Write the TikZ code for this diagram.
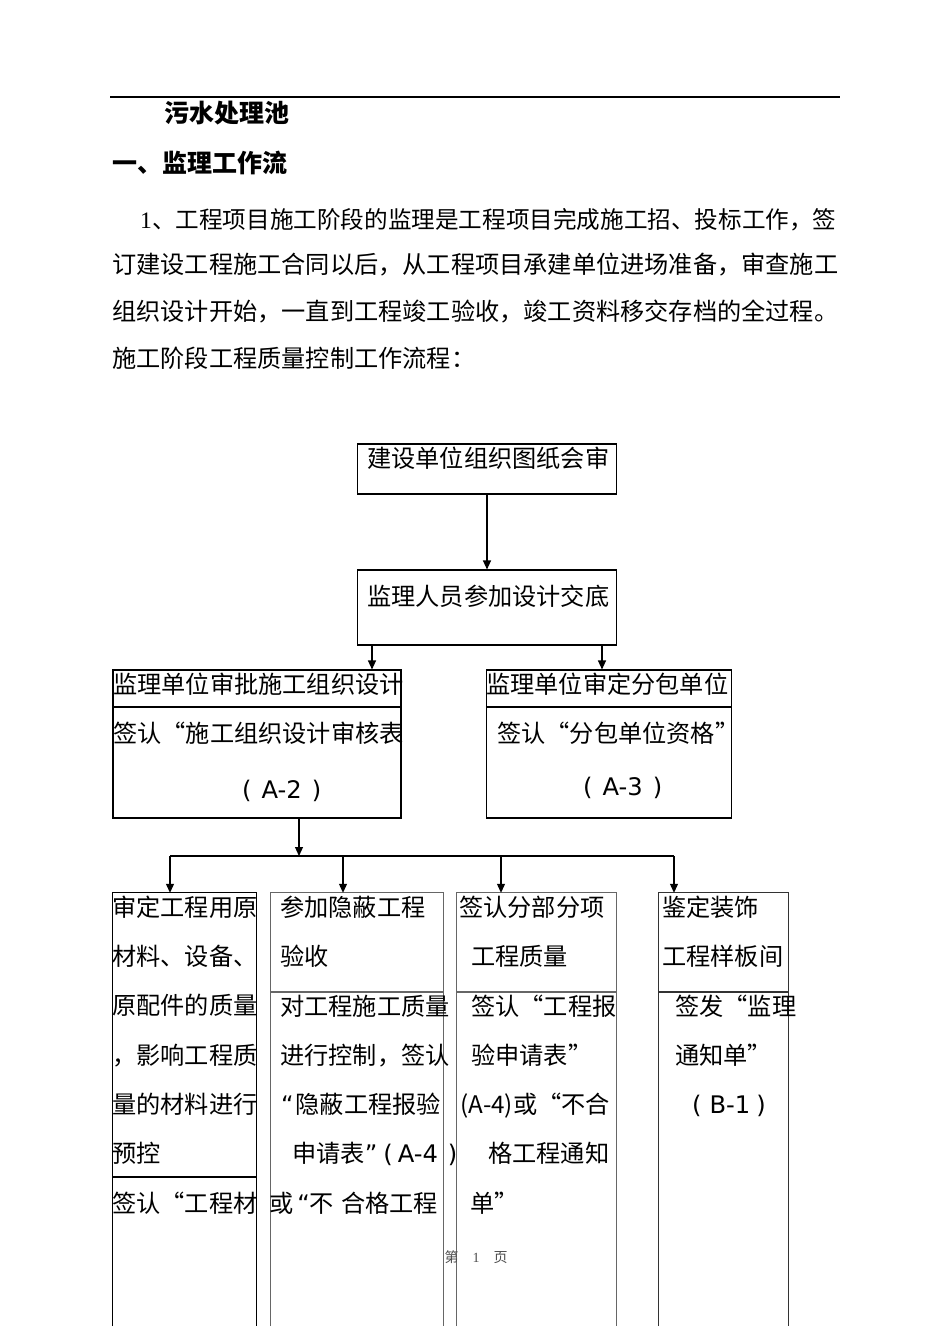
\documentclass[tikz,border=0pt]{standalone}
\usepackage{fontspec}
\setmainfont{Noto Sans CJK SC}
\newfontfamily\latinserif{Liberation Serif}
\newfontfamily\latinsans{DejaVu Sans}
\usetikzlibrary{arrows.meta,positioning}

\tikzset{
    frame/.style={draw, line width=1.1pt, inner sep=0pt},
    column/.style={inner sep=0pt, minimum height=433pt},
    txt/.style={anchor=base west, inner sep=0pt, font=\fontsize{24.2pt}{29pt}\selectfont},
    ttl/.style={anchor=base west, inner sep=0pt, font=\fontsize{25pt}{30pt}\selectfont\bfseries},
    link/.style={line width=1.1pt},
    arr/.style={link, -{Triangle[length=9pt,width=8pt]}},
}
% full-width style code label, e.g. ( A-2 )
\newcommand{\codelabel}[3]{{\latinsans(\hspace{#2}#1\hspace{#3})}}

\begin{document}
\begin{tikzpicture}[x=1pt,y=-1pt]
    \useasboundingbox (0,0) rectangle (950,1344);

    % Header
    \draw[line width=1.2pt] (110,97) -- (840,97);
    \node[ttl] (title) at (164,122) {污水处理池};
    \node[ttl] (section) at (112,172) {一、监理工作流};

    % Paragraph
    \node[txt, font=\fontsize{23.6pt}{29pt}\selectfont] (par1) at (140,228) {{\latinserif 1}、工程项目施工阶段的监理是工程项目完成施工招、投标工作，签};
    \node[txt] (par2) at (112,273) {订建设工程施工合同以后，从工程项目承建单位进场准备，审查施工};
    \node[txt] (par3) at (112,320) {组织设计开始，一直到工程竣工验收，竣工资料移交存档的全过程。};
    \node[txt] (par4) at (112,367) {施工阶段工程质量控制工作流程：};

    % Upper boxes
    \node[frame, minimum width=259pt, minimum height=50pt] (huishen) at (487,469) {};
    \node[txt] (huishenT) at (367,467) {建设单位组织图纸会审};

    \node[frame, minimum width=259pt, minimum height=75pt] (jiaodi) at (487,607.5) {};
    \node[txt] (jiaodiT) at (367,605) {监理人员参加设计交底};

    \node[frame, minimum width=288pt, minimum height=148pt] (shenpi) at (257,744) {};
    \draw[link] (shenpi.west |- 0,707) -- (shenpi.east |- 0,707);
    \node[txt] (shenpiA) at (113,693) {监理单位审批施工组织设计};
    \node[txt] (shenpiB) at (113,742) {签认“施工组织设计审核表};
    \node[txt] (shenpiC) at (242,798) {\codelabel{A-2}{10pt}{10pt}};

    \node[frame, minimum width=245pt, minimum height=148pt] (fenbao) at (609,744) {};
    \draw[link] (fenbao.west |- 0,707) -- (fenbao.east |- 0,707);
    \node[txt] (fenbaoA) at (486,693) {监理单位审定分包单位};
    \node[txt] (fenbaoB) at (497,742) {签认“分包单位资格”};
    \node[txt] (fenbaoC) at (583,795) {\codelabel{A-3}{10pt}{10pt}};

    % Connectors between upper boxes
    \coordinate (toShenpi) at (372,0);
    \coordinate (toFenbao) at (602,0);
    \draw[arr] (huishen.south) -- (jiaodi.north);
    \draw[arr] (jiaodi.south -| toShenpi) -- (shenpi.north -| toShenpi);
    \draw[arr] (jiaodi.south -| toFenbao) -- (fenbao.north -| toFenbao);

    % Lower columns (open at the page bottom)
    \node[column, minimum width=143pt] (cailiao) at (184.5,1109.5) {};
    \node[column, minimum width=172pt] (yinbi) at (357,1109.5) {};
    \node[column, minimum width=159pt] (fenxiang) at (536.5,1109.5) {};
    \node[column, minimum width=129.5pt] (zhuangshi) at (723.75,1109.5) {};
    \foreach \c/\d/\col in {cailiao/1177/black, yinbi/992/black!60, fenxiang/992/black!60, zhuangshi/992/black!80} {
        \draw[link, \col] (\c.south west) -- (\c.north west) -- (\c.north east) -- (\c.south east);
        \draw[link, \col] (\c.west |- 0,\d) -- (\c.east |- 0,\d);
    }

    % Bus and arrows to the columns
    \coordinate (bus) at (299,856);
    \coordinate (busL) at (170,856);
    \coordinate (busR) at (674,856);
    \draw[arr] (shenpi.south -| bus) -- (bus);
    \draw[link] (busL) -- (busR);
    \foreach \c/\x in {cailiao/170, yinbi/343, fenxiang/501, zhuangshi/674} {
        \draw[arr] (\x,856) -- (\c.north -| \x,0);
    }

    % Column texts
    \foreach \t [count=\i] in {审定工程用原, 材料、设备、, 原配件的质量, {，影响工程质}, 量的材料进行, 预控, 签认“工程材} {
        \node[txt] (cailiao\i) at (112,867+49.3*\i) {\t};
    }
    \node[txt] (yinbi1) at (280,916) {参加隐蔽工程};
    \node[txt] (yinbi2) at (280,965) {验收};
    \node[txt] (yinbi3) at (280,1015) {对工程施工质量};
    \node[txt] (yinbi4) at (280,1064) {进行控制，签认};
    \node[txt] (yinbi5) at (281,1113) {{\latinsans “}\hspace{2pt}隐蔽工程报验};
    \node[txt] (yinbi6) at (292,1162) {申请表{\latinsans ”}\hspace{6pt}\codelabel{A-4}{5pt}{10pt}};
    \node[txt] (yinbi7) at (269,1212) {或\hspace{4pt}{\latinsans “}不\hspace{7pt}合格工程};

    \node[txt] (fenxiang1) at (459,916) {签认分部分项};
    \node[txt] (fenxiang2) at (471,965) {工程质量};
    \node[txt] (fenxiang3) at (471,1015) {签认“工程报};
    \node[txt] (fenxiang4) at (471,1064) {验申请表”};
    \node[txt] (fenxiang5) at (460,1113) {(A-4)或“不合};
    \node[txt] (fenxiang6) at (488,1162) {格工程通知};
    \node[txt] (fenxiang7) at (470,1212) {单”};

    \node[txt] (zhuangshi1) at (662,916) {鉴定装饰};
    \node[txt] (zhuangshi2) at (662,965) {工程样板间};
    \node[txt] (zhuangshi3) at (675,1015) {签发“监理};
    \node[txt] (zhuangshi4) at (675,1064) {通知单”};
    \node[txt] (zhuangshi5) at (692,1113) {\codelabel{B-1}{8pt}{6pt}};

    % Page footer
    \node[anchor=base, inner sep=0pt, text=black!70, font=\fontsize{14pt}{16pt}\selectfont] (footer) at (476,1262) {第\hspace{14pt}{\latinserif 1}\hspace{14pt}页};
\end{tikzpicture}
\end{document}
